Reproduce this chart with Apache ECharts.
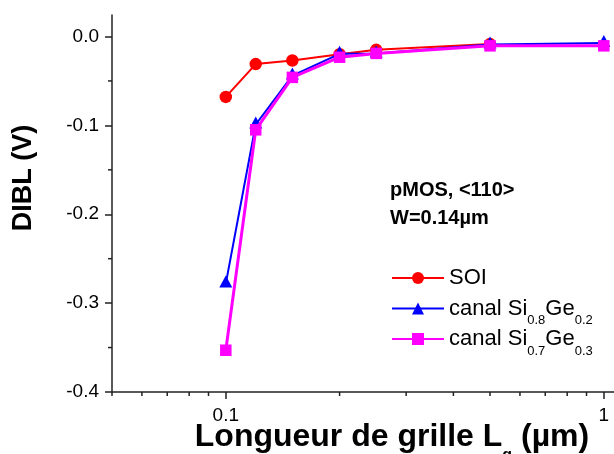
<!DOCTYPE html>
<html><head><meta charset="utf-8">
<script src="https://cdn.jsdelivr.net/npm/echarts@6/dist/echarts.min.js"></script>
<style>html,body{margin:0;padding:0;background:#fff}#c{width:614px;height:454px}</style>
</head><body><div id="c"></div>
<script>
// ---- data ----
const gateLengthSOI = [0.1, 0.12, 0.15, 0.2, 0.25, 0.5];
const gateLengthSiGe = [0.1, 0.12, 0.15, 0.2, 0.25, 0.5, 1.0];
const diblSOI = [-0.068, -0.031, -0.027, -0.020, -0.015, -0.0085];
const diblSiGe02 = [-0.278, -0.099, -0.044, -0.0195, -0.019, -0.009, -0.0072];
const diblSiGe03 = [-0.353, -0.105, -0.046, -0.0233, -0.019, -0.0105, -0.0105];
const xMajorTicks = [0.1, 1];
const xMinorTicks = [0.05, 0.06, 0.07, 0.08, 0.09, 0.2, 0.3, 0.4, 0.5, 0.6, 0.7, 0.8, 0.9];
const yMajorTicks = [-0.4, -0.3, -0.2, -0.1, 0];
const yMinorTicks = [-0.35, -0.25, -0.15, -0.05];
const seriesNames = ['SOI', 'canal Si0.8Ge0.2', 'canal Si0.7Ge0.3'];
const legendRich = {
  'SOI': '{a|SOI}{s| }',
  'canal Si0.8Ge0.2': '{a|canal Si}{s|0.8}{a|Ge}{s|0.2}',
  'canal Si0.7Ge0.3': '{a|canal Si}{s|0.7}{a|Ge}{s|0.3}'
};
const X_MIN = 0.05, X_MAX = 1.064, Y_MIN = -0.4, Y_MAX = 0.0242;

const FONT = 'Liberation Sans, Arial, sans-serif';
const AX = '#222';
const zip = (xs, ys) => xs.map((x, i) => [x, ys[i]]);

const chart = echarts.init(document.getElementById('c'), null, {renderer: 'canvas'});
chart.setOption({
  animation: false,
  backgroundColor: '#fff',
  grid: {left: 112, top: 15, right: 0, bottom: 62, containLabel: false},
  xAxis: {
    type: 'log', logBase: 10, min: X_MIN, max: X_MAX,
    axisLine: {show: true, onZero: false, lineStyle: {color: AX, width: 1.5}},
    axisTick: {show: true, inside: false, length: 7, lineStyle: {color: AX, width: 1.5}, customValues: xMajorTicks},
    axisLabel: {
      show: true, margin: 14, fontSize: 19, fontFamily: FONT, color: '#000',
      customValues: xMajorTicks,
      formatter: v => { const l = Math.log10(v); return Math.abs(l - Math.round(l)) < 1e-6 ? String(+v.toPrecision(3)) : ''; }
    },
    splitLine: {show: false}
  },
  yAxis: {
    type: 'value', min: Y_MIN, max: Y_MAX, interval: 0.1,
    axisLine: {show: true, onZero: false, lineStyle: {color: AX, width: 1.5}},
    axisTick: {show: true, inside: false, length: 7, lineStyle: {color: AX, width: 1.5}, customValues: yMajorTicks},
    axisLabel: {
      show: true, margin: 13, fontSize: 19, fontFamily: FONT, color: '#000',
      customValues: yMajorTicks,
      formatter: v => (Math.abs(v) < 1e-9 ? 0 : v).toFixed(1)
    },
    splitLine: {show: false}
  },
  legend: {
    orient: 'vertical', left: 391, top: 267, padding: 0,
    itemWidth: 52, itemHeight: 15, itemGap: 1,
    data: seriesNames,
    formatter: name => legendRich[name],
    textStyle: {
      color: '#000', fontFamily: FONT,
      rich: {
        a: {fontSize: 22, fontFamily: FONT, color: '#000', lineHeight: 37, verticalAlign: 'middle'},
        s: {fontSize: 13, fontFamily: FONT, color: '#000', verticalAlign: 'bottom'}
      }
    }
  },
  graphic: [
    {type: 'text', left: 390, top: 176, style: {text: 'pMOS, <110>\nW=0.14µm', font: 'bold 20px ' + FONT, fill: '#000', lineHeight: 28}},
    {type: 'text', x: 24, y: 178, rotation: Math.PI / 2,
     style: {text: 'DIBL (V)', font: 'bold 27px ' + FONT, fill: '#000', align: 'center', verticalAlign: 'middle'}},
    {type: 'text', x: 392, y: 437.5,
     style: {text: '{a|Longueur de grille L}{s|g}{a| (µm)}', align: 'center', verticalAlign: 'middle', fill: '#000',
       rich: {
         a: {fontSize: 32, fontWeight: 'bold', fontFamily: FONT, color: '#000', lineHeight: 52, verticalAlign: 'middle'},
         s: {fontSize: 16, fontWeight: 'bold', fontFamily: FONT, color: '#000', verticalAlign: 'bottom'}
       }}}
  ],
  series: [
    {
      name: seriesNames[0], type: 'line', data: zip(gateLengthSOI, diblSOI),
      symbol: 'circle', symbolSize: 12.5,
      lineStyle: {color: '#ff0000', width: 2}, itemStyle: {color: '#ff0000'}, z: 2
    },
    {
      name: seriesNames[1], type: 'line', data: zip(gateLengthSiGe, diblSiGe02),
      symbol: 'triangle', symbolSize: [13, 12], symbolOffset: [0, -2],
      lineStyle: {color: '#0000ff', width: 2}, itemStyle: {color: '#0000ff'}, z: 3
    },
    {
      name: seriesNames[2], type: 'line', data: zip(gateLengthSiGe, diblSiGe03),
      symbol: 'rect', symbolSize: 11.5,
      lineStyle: {color: '#ff00ff', width: 3}, itemStyle: {color: '#ff00ff'}, z: 4
    },
    {
      type: 'custom', silent: true, clip: false, z: 5,
      data: xMinorTicks.map(v => [v, Y_MIN, 0]).concat(yMinorTicks.map(v => [X_MIN, v, 1])),
      encode: {x: 0, y: 1},
      renderItem: (params, api) => {
        const p = api.coord([api.value(0), api.value(1)]);
        const isX = api.value(2) === 0;
        return {
          type: 'line',
          shape: isX ? {x1: p[0], y1: p[1], x2: p[0], y2: p[1] + 4} : {x1: p[0], y1: p[1], x2: p[0] - 4, y2: p[1]},
          style: {stroke: AX, lineWidth: 1.5}
        };
      }
    }
  ]
});
</script></body></html>
